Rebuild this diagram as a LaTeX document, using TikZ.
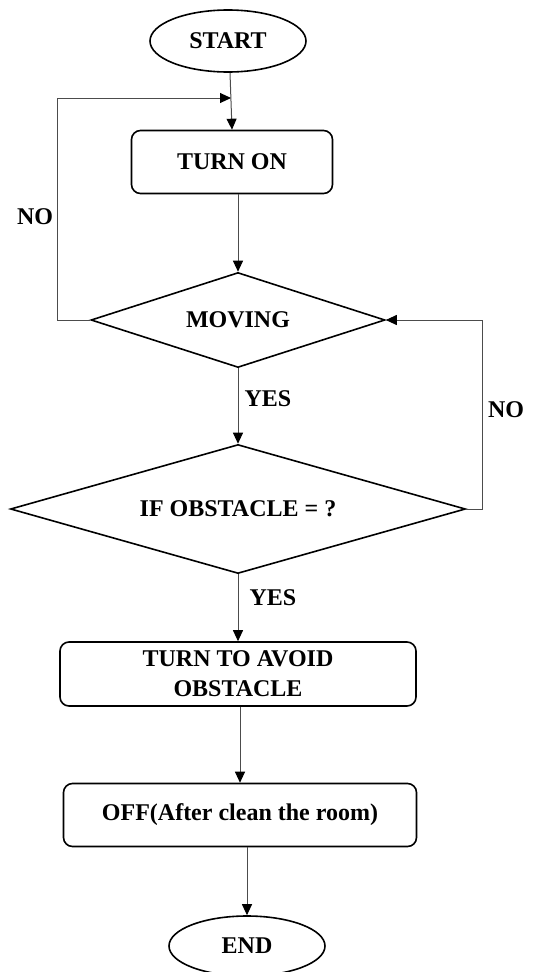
\documentclass[tikz,border=0pt]{standalone}
\usepackage{fontspec}
\setmainfont{Liberation Serif}
\usetikzlibrary{shapes.geometric,arrows.meta}
\begin{document}
\begin{tikzpicture}[x=1pt,y=-1pt,
  every node/.style={font=\fontsize{24}{30}\selectfont\bfseries},
  term/.style={draw,ellipse,line width=1.6pt,minimum width=156pt,minimum height=62pt,inner sep=0pt},
  proc/.style={draw,rectangle,rounded corners=9pt,line width=1.6pt,inner sep=0pt,align=center},
  dec/.style={draw,diamond,line width=1.6pt,inner sep=0pt},
  conn/.style={draw=black!70,line width=1pt,-{Triangle[length=11pt,width=10pt,fill=black,color=black]}},
  lbl/.style={inner sep=0pt}]
\useasboundingbox (0,0) rectangle (555,972);
\node[term] (start) at (228,41) {START};
\node[proc,minimum width=201pt,minimum height=63pt] (turnon) at (232,162) {TURN ON};
\node[dec,aspect=3.1,minimum width=294pt,minimum height=95pt] (moving) at (238,320) {MOVING};
\node[dec,aspect=3.5,minimum width=455pt,minimum height=129pt] (obst) at (238,509) {IF OBSTACLE = ?};
\node[proc,minimum width=356pt,minimum height=64pt] (avoid) at (238,674) {TURN TO AVOID\\OBSTACLE};
\node[proc,minimum width=353pt,minimum height=63pt] (off) at (240,815) {OFF(After clean the room)};
\node[term,minimum height=60pt] (end) at (247,946) {END};
\node[lbl] (no1) at (35,217) {NO};
\node[lbl] (yes1) at (268,399) {YES};
\node[lbl] (no2) at (506,410) {NO};
\node[lbl] (yes2) at (273,598) {YES};
\coordinate (nl) at (57,98);
\coordinate (jn) at (231,98);
\coordinate (nr) at (482,320);
\draw[conn] (start.south) ++(2pt,0) -- (turnon.north);
\draw[conn] (moving.north |- turnon.south) -- (moving.north);
\draw[conn] (moving.south) -- (obst.north);
\draw[conn] (obst.south) -- (avoid.north);
\draw[conn] (off.north |- avoid.south) -- (off.north);
\draw[conn] (end.north |- off.south) -- (end.north);
\draw[conn] (moving.west) -| (nl) -- (jn);
\draw[conn] (obst.east) -| (nr) -- (moving.east);
\end{tikzpicture}
\end{document}
